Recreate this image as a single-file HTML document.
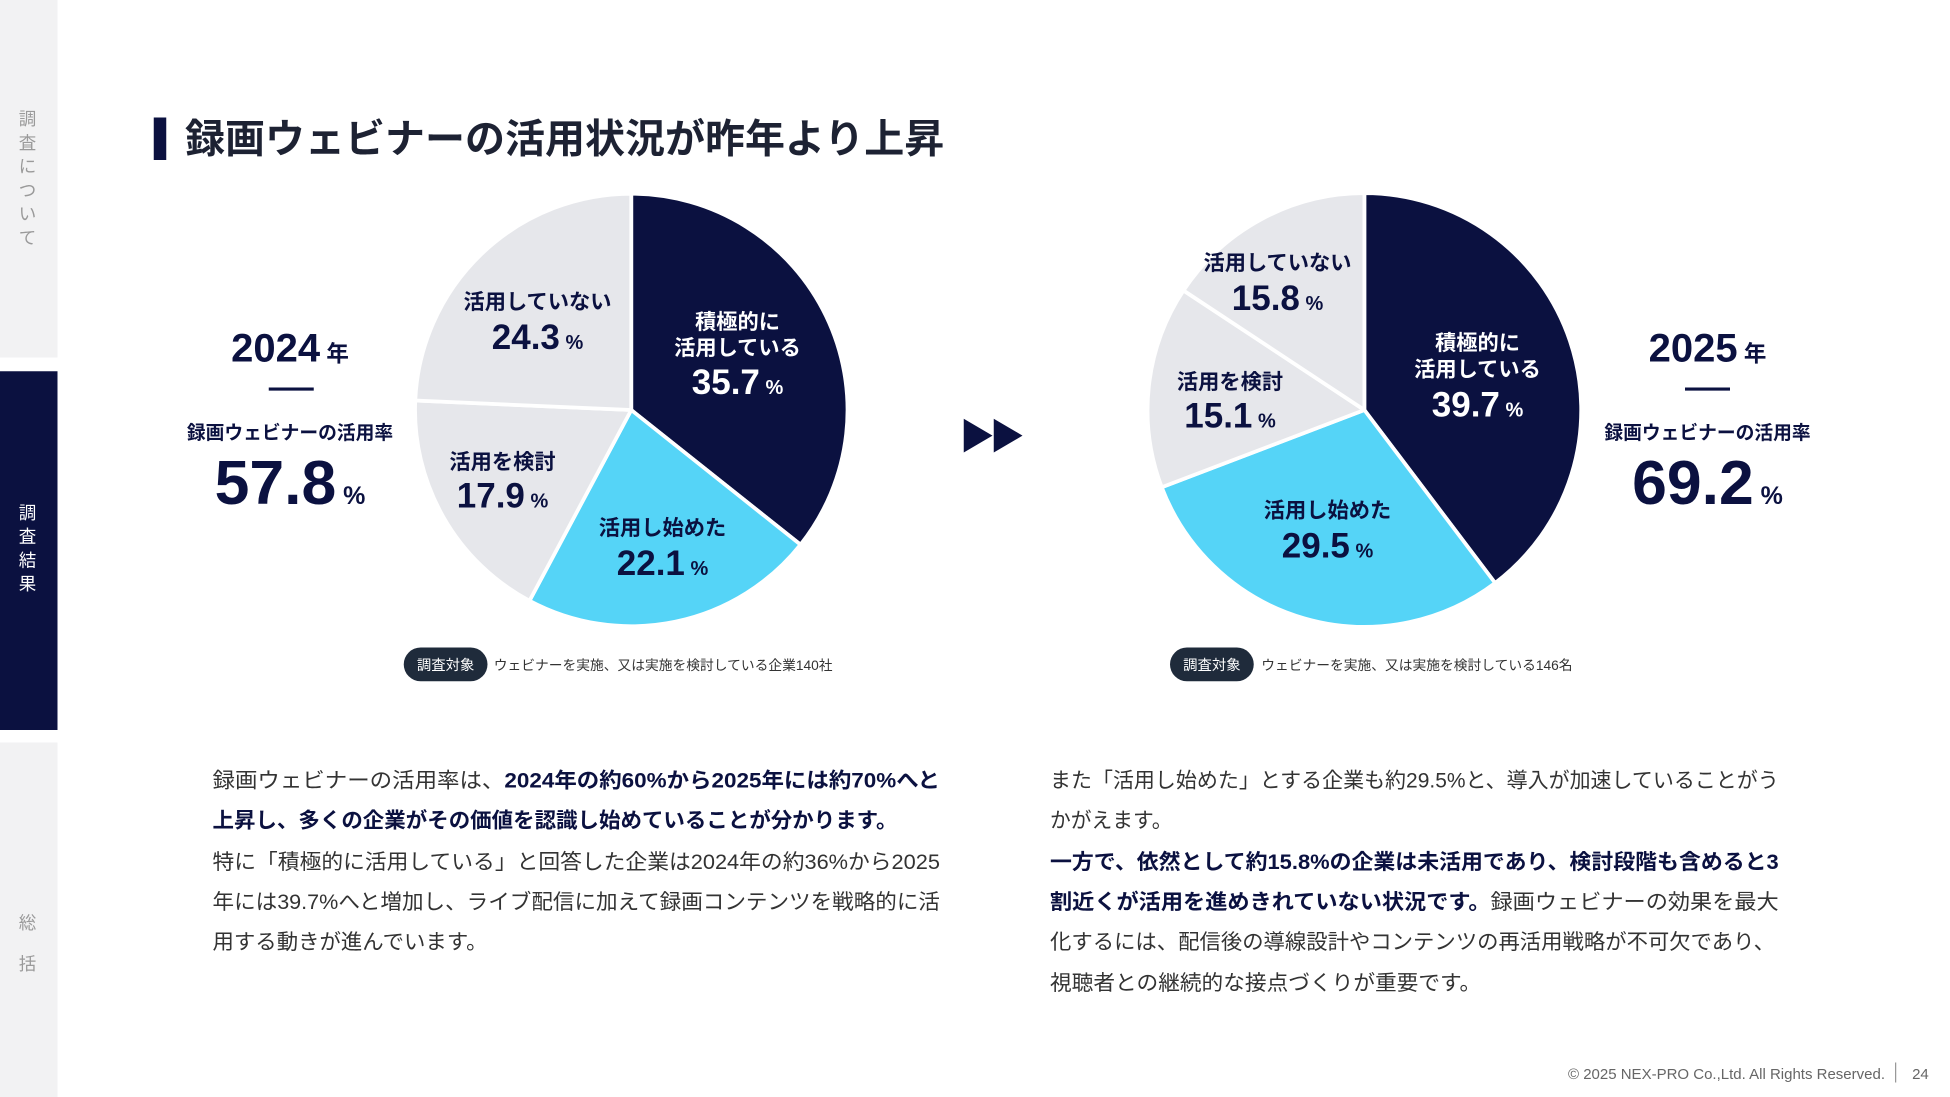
<!DOCTYPE html>
<html><head><meta charset="utf-8"><style>
html,body{margin:0;padding:0;background:#fff;}
svg{display:block;}
text{font-family:"Liberation Sans","Noto Sans CJK JP",sans-serif;}
</style></head><body>
<svg width="1950" height="1097" viewBox="0 0 1560 877.6" xmlns="http://www.w3.org/2000/svg">
<rect width="1560" height="877.6" fill="#fff"/>
<!-- sidebar -->
<rect x="0" y="0" width="46" height="286" fill="#f2f2f3"/>
<rect x="0" y="297" width="46" height="287" fill="#0b1140"/>
<rect x="0" y="594" width="46" height="284" fill="#f2f2f3"/>
<g font-size="14" fill="#9a9a9a" text-anchor="middle">
<text x="22" y="100">調</text><text x="22" y="119">査</text><text x="22" y="138">に</text><text x="22" y="157">つ</text><text x="22" y="176">い</text><text x="22" y="195">て</text>
</g>
<g font-size="14" fill="#fff" text-anchor="middle">
<text x="22" y="415">調</text><text x="22" y="434">査</text><text x="22" y="453">結</text><text x="22" y="472">果</text>
</g>
<g font-size="14" fill="#9a9a9a" text-anchor="middle">
<text x="22" y="743">総</text><text x="22" y="776">括</text>
</g>
<!-- title -->
<rect x="123" y="94" width="10" height="34" fill="#0b1140"/>
<text x="148" y="122" font-size="32" font-weight="bold" fill="#1d2233">録画ウェビナーの活用状況が昨年より上昇</text>

<!-- pie 1 -->
<g stroke="#fff" stroke-width="3" stroke-linejoin="round">
<path d="M505,328 L505,155 A173,173 0 0 1 640.4,435.7 Z" fill="#0b1140"/>
<path d="M505,328 L640.4,435.7 A173,173 0 0 1 423.6,480.6 Z" fill="#55d4f7"/>
<path d="M505,328 L423.6,480.6 A173,173 0 0 1 332.2,320.4 Z" fill="#e6e7eb"/>
<path d="M505,328 L332.2,320.4 A173,173 0 0 1 505,155 Z" fill="#e6e7eb"/>
</g>
<g text-anchor="middle" fill="#0b1140" font-weight="bold">
<text x="430" y="247" font-size="17">活用していない</text>
<text x="430" y="279" font-size="28">24.3<tspan font-size="16"> %</tspan></text>
<text x="402" y="375" font-size="17">活用を検討</text>
<text x="402" y="406" font-size="28">17.9<tspan font-size="16"> %</tspan></text>
<text x="530" y="428" font-size="17">活用し始めた</text>
<text x="530" y="460" font-size="28">22.1<tspan font-size="16"> %</tspan></text>
</g>
<g text-anchor="middle" fill="#fff" font-weight="bold">
<text x="590" y="263" font-size="17">積極的に</text>
<text x="590" y="284" font-size="17">活用している</text>
<text x="590" y="315" font-size="28">35.7<tspan font-size="16"> %</tspan></text>
</g>
<!-- left stats -->
<g text-anchor="middle" fill="#0b1140" font-weight="bold">
<text x="232" y="289" font-size="32">2024<tspan font-size="18"> 年</tspan></text>
<rect x="215" y="310" width="36" height="2.5" fill="#0b1140"/>
<text x="232" y="351" font-size="15">録画ウェビナーの活用率</text>
<text x="232" y="403" font-size="50">57.8<tspan font-size="20"> %</tspan></text>
</g>
<!-- note 1 -->
<rect x="323" y="518" width="67" height="27" rx="13.5" fill="#1f2b3b"/>
<text x="356.5" y="536" font-size="11.5" fill="#fff" text-anchor="middle">調査対象</text>
<text x="395" y="536" font-size="11" fill="#333">ウェビナーを実施、又は実施を検討している企業140社</text>

<!-- arrow -->
<path d="M771,335 L794,348.5 L771,362 Z M795,335 L818,348.5 L795,362 Z" fill="#0b1140"/>

<!-- pie 2 -->
<g stroke="#fff" stroke-width="3" stroke-linejoin="round">
<path d="M1091.5,328 L1091.5,154.5 A173.5,173.5 0 0 1 1196.1,466.4 Z" fill="#0b1140"/>
<path d="M1091.5,328 L1196.1,466.4 A173.5,173.5 0 0 1 929.4,389.8 Z" fill="#55d4f7"/>
<path d="M1091.5,328 L929.4,389.8 A173.5,173.5 0 0 1 946.8,232.4 Z" fill="#e6e7eb"/>
<path d="M1091.5,328 L946.8,232.4 A173.5,173.5 0 0 1 1091.5,154.5 Z" fill="#e6e7eb"/>
</g>
<g text-anchor="middle" fill="#0b1140" font-weight="bold">
<text x="1022" y="216" font-size="17">活用していない</text>
<text x="1022" y="248" font-size="28">15.8<tspan font-size="16"> %</tspan></text>
<text x="984" y="311" font-size="17">活用を検討</text>
<text x="984" y="342" font-size="28">15.1<tspan font-size="16"> %</tspan></text>
<text x="1062" y="414" font-size="17">活用し始めた</text>
<text x="1062" y="446" font-size="28">29.5<tspan font-size="16"> %</tspan></text>
</g>
<g text-anchor="middle" fill="#fff" font-weight="bold">
<text x="1182" y="280" font-size="17">積極的に</text>
<text x="1182" y="301" font-size="17">活用している</text>
<text x="1182" y="333" font-size="28">39.7<tspan font-size="16"> %</tspan></text>
</g>
<g text-anchor="middle" fill="#0b1140" font-weight="bold">
<text x="1366" y="289" font-size="32">2025<tspan font-size="18"> 年</tspan></text>
<rect x="1348" y="310" width="36" height="2.5" fill="#0b1140"/>
<text x="1366" y="351" font-size="15">録画ウェビナーの活用率</text>
<text x="1366" y="403" font-size="50">69.2<tspan font-size="20"> %</tspan></text>
</g>
<rect x="936" y="518" width="67" height="27" rx="13.5" fill="#1f2b3b"/>
<text x="969.5" y="536" font-size="11.5" fill="#fff" text-anchor="middle">調査対象</text>
<text x="1009" y="536" font-size="11" fill="#333">ウェビナーを実施、又は実施を検討している146名</text>

<!-- body text left -->
<g font-size="17" fill="#333">
<text x="170" y="630" textLength="582" lengthAdjust="spacingAndGlyphs">録画ウェビナーの活用率は、<tspan font-weight="bold" fill="#0b1140">2024年の約60%から2025年には約70%へと</tspan></text>
<text x="170" y="662" font-weight="bold" fill="#0b1140" textLength="548" lengthAdjust="spacingAndGlyphs">上昇し、多くの企業がその価値を認識し始めていることが分かります。</text>
<text x="170" y="695" textLength="582" lengthAdjust="spacingAndGlyphs">特に「積極的に活用している」と回答した企業は2024年の約36%から2025</text>
<text x="170" y="727" textLength="582" lengthAdjust="spacingAndGlyphs">年には39.7%へと増加し、ライブ配信に加えて録画コンテンツを戦略的に活</text>
<text x="170" y="759" textLength="220" lengthAdjust="spacingAndGlyphs">用する動きが進んでいます。</text>
</g>
<!-- body text right -->
<g font-size="17" fill="#333">
<text x="840" y="630" textLength="583" lengthAdjust="spacingAndGlyphs">また「活用し始めた」とする企業も約29.5%と、導入が加速していることがう</text>
<text x="840" y="662" textLength="98" lengthAdjust="spacingAndGlyphs">かがえます。</text>
<text x="840" y="695" font-weight="bold" fill="#0b1140" textLength="583" lengthAdjust="spacingAndGlyphs">一方で、依然として約15.8%の企業は未活用であり、検討段階も含めると3</text>
<text x="840" y="727" textLength="583" lengthAdjust="spacingAndGlyphs"><tspan font-weight="bold" fill="#0b1140">割近くが活用を進めきれていない状況です。</tspan>録画ウェビナーの効果を最大</text>
<text x="840" y="759" textLength="580" lengthAdjust="spacingAndGlyphs">化するには、配信後の導線設計やコンテンツの再活用戦略が不可欠であり、</text>
<text x="840" y="792" textLength="345" lengthAdjust="spacingAndGlyphs">視聴者との継続的な接点づくりが重要です。</text>
</g>
<!-- footer -->
<text x="1508" y="863" font-size="12" fill="#666" text-anchor="end">© 2025 NEX-PRO Co.,Ltd. All Rights Reserved.</text>
<rect x="1516" y="850" width="1" height="16" fill="#999"/>
<text x="1543" y="863" font-size="12" fill="#666" text-anchor="end">24</text>
</svg>
</body></html>
